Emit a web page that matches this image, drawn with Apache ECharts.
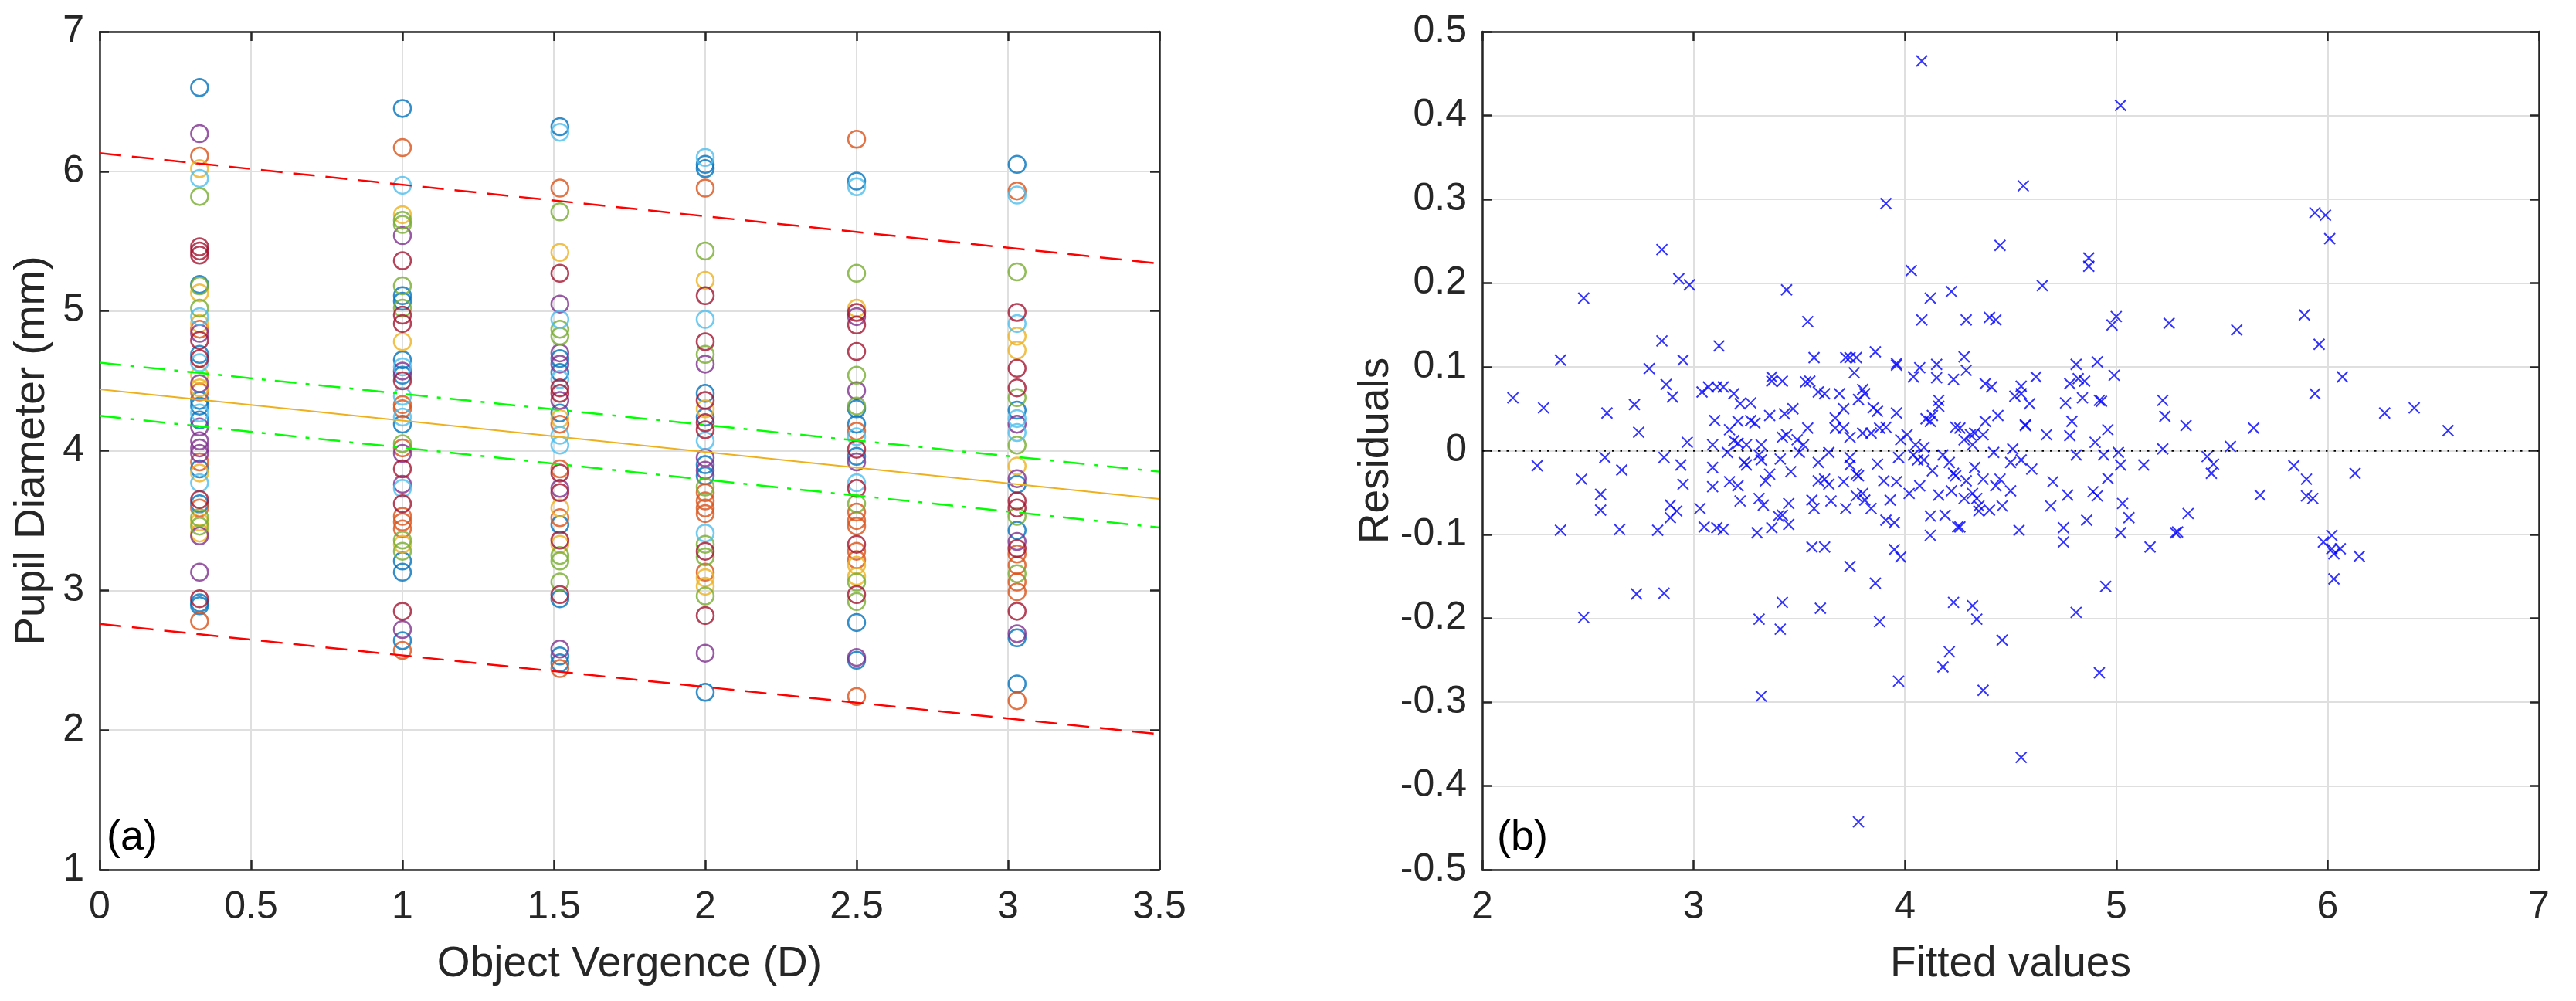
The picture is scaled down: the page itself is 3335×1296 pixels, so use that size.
<!DOCTYPE html>
<html>
<head>
<meta charset="utf-8">
<title>Pupil diameter vs object vergence</title>
<script src="https://cdn.jsdelivr.net/npm/echarts@6/dist/echarts.min.js"></script>
<style>
  html, body { margin: 0; padding: 0; background: #fff; }
  #chart { width: 3335px; height: 1296px; }
</style>
</head>
<body>
<div id="chart"></div>
<script>
// object vergence levels (D)
const vergence = [0.33, 1, 1.52, 2, 2.5, 3.03];

// pupil diameters (mm) per colour, one inner list per vergence level
const blueDiam = [
  [6.60, 5.19, 4.69, 4.36, 4.32, 4.22, 3.87, 3.62, 2.91, 2.89],
  [6.45, 5.11, 5.07, 4.65, 4.54, 4.19, 3.21, 3.13, 2.64],
  [6.32, 4.66, 4.56, 4.27, 3.47, 2.94, 2.53, 2.48],
  [6.05, 6.02, 4.41, 4.24, 3.90, 3.82, 2.27],
  [5.93, 4.30, 4.19, 3.96, 2.77, 2.50],
  [6.05, 4.29, 3.76, 3.43, 2.66, 2.33]
];
const orangeDiam = [
  [6.11, 4.87, 4.42, 3.92, 3.59, 2.78],
  [6.17, 4.33, 4.30, 4.02, 3.53, 3.49, 3.44, 2.57],
  [5.88, 4.19, 3.87, 3.52, 2.44],
  [5.88, 3.70, 3.64, 3.59, 3.55, 3.13],
  [6.23, 4.14, 3.56, 3.50, 3.46, 3.28, 3.22, 2.24],
  [5.86, 3.26, 3.18, 3.06, 2.99, 2.21]
];
const yellowDiam = [
  [6.02, 5.13, 4.91, 4.54, 4.45, 3.84, 3.49, 3.41],
  [5.69, 4.78, 3.33],
  [5.42, 4.23, 3.59, 3.33],
  [5.22, 4.30, 3.09, 3.03],
  [5.02, 3.18, 3.10],
  [4.82, 4.72, 3.89]
];
const purpleDiam = [
  [6.27, 4.84, 4.48, 4.17, 4.07, 4.02, 3.98, 3.39, 3.13],
  [5.54, 4.57, 3.98, 3.76, 2.72],
  [5.05, 4.70, 4.62, 4.36, 3.73, 2.58],
  [4.62, 3.95, 3.86, 2.55],
  [4.96, 4.43, 3.92, 2.52],
  [4.19, 3.80, 3.35, 2.69]
];
const greenDiam = [
  [5.82, 5.18, 5.02, 3.52, 3.46],
  [5.65, 5.62, 5.18, 5.02, 4.05, 3.36, 3.28],
  [5.71, 4.87, 4.82, 3.25, 3.21, 3.06],
  [5.43, 4.69, 3.74, 3.33, 3.24, 2.96],
  [5.27, 4.54, 4.32, 3.62, 3.06, 2.92],
  [5.28, 4.38, 4.04, 3.53, 3.12]
];
const cyanDiam = [
  [5.95, 4.96, 4.63, 4.27, 3.77],
  [5.90, 4.60, 4.39, 4.24, 3.73],
  [6.28, 4.94, 4.51, 4.11, 4.04],
  [6.10, 4.94, 4.07, 3.41],
  [5.89, 4.10, 3.77],
  [5.83, 4.91, 4.23, 4.13]
];
const maroonDiam = [
  [5.46, 5.43, 5.40, 4.79, 4.66, 3.65, 2.94],
  [5.36, 4.97, 4.91, 4.50, 3.87, 3.62, 2.85],
  [5.27, 4.45, 4.41, 3.84, 3.70, 3.36, 2.97],
  [5.11, 4.78, 4.36, 4.20, 4.15, 3.28, 2.82],
  [4.99, 4.90, 4.71, 4.01, 3.73, 3.33, 2.97],
  [4.99, 4.59, 4.45, 3.64, 3.59, 3.30, 2.85]
];

// regression lines, given at the ends of the x range
const lineX = [0, 3.5];
const fitY = [4.44, 3.655];
const confUpperY = [4.63, 3.85];
const confLowerY = [4.25, 3.45];
const predUpperY = [6.13, 5.34];
const predLowerY = [2.76, 1.97];

// residual plot
const fittedVals = [
  2.85, 3.12, 2.95, 3.57, 3.72, 3.74, 3.77, 3.76, 3.86, 3.96, 3.96, 4.04, 4.07, 4.15, 4.15, 4.23,
  2.87, 2.90, 3.37, 3.37, 3.42, 3.53, 3.55, 3.59, 3.62, 3.69, 3.80, 3.81, 3.78, 3.04, 3.07, 3.11,
  3.14, 3.19, 3.22, 3.27, 3.85, 3.87, 3.96, 3.71, 4.16, 4.16, 4.10, 4.12, 4.13, 3.10, 3.21, 3.27,
  3.29, 3.36, 3.43, 3.47, 3.67, 3.67, 3.71, 3.54, 3.17, 3.74, 3.80, 3.84, 3.88, 3.91, 4.24, 2.97,
  3.09, 3.19, 3.21, 3.25, 3.32, 3.42, 3.44, 3.49, 3.52, 3.98, 4.01, 4.05, 4.09, 2.86, 2.94, 3.09,
  3.16, 3.24, 3.25, 3.31, 3.32, 3.41, 3.50, 3.59, 3.64, 3.46, 3.36, 3.34, 3.74, 3.74, 3.77, 3.78,
  3.87, 3.97, 4.04, 4.06, 4.09, 4.13, 4.18, 4.21, 4.23, 2.95, 3.09, 3.17, 3.21, 3.59, 3.62, 3.64,
  3.71, 3.90, 3.96, 4.02, 4.07, 4.16, 4.22, 3.22, 3.31, 3.33, 3.45, 3.56, 3.57, 3.65, 3.72, 3.77,
  3.80, 3.81, 3.84, 3.93, 2.89, 2.92, 2.89, 3.03, 3.05, 3.11, 3.14, 2.83, 3.30, 3.37, 3.40, 3.42,
  3.45, 3.91, 3.95, 4.12, 4.19, 4.25, 4.12, 3.56, 3.62, 3.95, 3.98, 3.74, 3.86, 2.86, 3.42, 3.60,
  4.23, 3.31, 3.41, 3.88,
  4.28, 4.29, 4.38, 4.41, 4.55, 4.55, 4.52, 4.59, 4.62, 4.81, 4.82, 4.78, 4.85, 4.91, 4.99, 4.76,
  4.84, 4.92, 4.93, 4.44, 4.38, 4.57, 4.57, 4.26, 4.31, 4.33, 4.37, 4.28, 4.32, 4.79, 4.78, 4.67,
  4.96, 4.90, 4.42, 4.51, 4.81, 4.94, 5.01, 5.22, 5.54, 5.43, 5.46, 5.45, 5.02, 5.13, 4.50, 4.55,
  4.60, 4.33, 4.24, 4.29, 4.37, 4.43, 4.45, 4.50, 4.70, 4.96, 4.77, 4.89, 4.91, 4.32, 4.34, 4.28,
  4.35, 4.35, 4.40, 4.46, 4.69, 5.03, 5.06, 4.86, 5.34, 4.26, 4.54, 4.75, 4.75, 5.02, 5.16, 5.28,
  5.29, 5.68, 5.65, 5.33, 5.22, 5.23, 4.95, 4.32, 4.34, 4.81, 4.46,
  2.145, 2.29, 2.26, 2.37, 2.37, 2.48, 2.47, 2.48, 2.59, 2.58, 2.56, 2.56, 2.65, 2.66, 2.72, 2.74,
  2.73, 2.79, 2.85, 2.93, 2.98, 3.44, 3.54, 3.91, 4.03, 4.08, 4.12, 4.08, 4.22, 4.29, 4.40, 4.43,
  4.45, 4.56, 4.65, 4.87, 4.87, 4.98, 5.00, 5.02, 5.25, 5.57, 5.89, 5.94, 5.99, 6.01, 5.96, 3.32,
  3.97, 4.18, 4.21, 4.37, 4.55, 4.92, 3.78, 5.84, 5.90, 5.90, 5.93, 5.94, 5.98, 6.02, 6.02, 6.03,
  6.06, 6.03, 6.07, 6.13, 6.15, 6.27, 6.41, 6.57
];
const residualVals = [
  0.131, 0.125, 0.108, 0.111, 0.111, 0.111, 0.111, 0.093, 0.118, 0.104, 0.102, 0.088, 0.099, 0.103, 0.087, 0.085,
  0.079, 0.064, 0.088, 0.083, 0.083, 0.082, 0.083, 0.070, 0.068, 0.068, 0.073, 0.068, 0.061, 0.070, 0.076, 0.076,
  0.076, 0.068, 0.056, 0.057, 0.051, 0.047, 0.045, 0.050, 0.060, 0.053, 0.038, 0.035, 0.042, 0.036, 0.035, 0.036,
  0.033, 0.042, 0.044, 0.050, 0.039, 0.027, 0.027, 0.027, 0.025, 0.016, 0.021, 0.021, 0.027, 0.028, 0.028, 0.010,
  0.007, 0.012, 0.009, 0.007, 0.007, 0.016, 0.019, 0.013, 0.007, 0.013, 0.019, 0.007, 0.004, -0.008, -0.017, -0.020,
  -0.002, -0.014, -0.017, -0.005, -0.011, -0.010, -0.002, -0.014, -0.002, -0.025, -0.028, -0.036, -0.008, -0.017, -0.028, -0.030,
  -0.016, -0.008, -0.005, -0.011, -0.011, -0.024, -0.005, -0.014, -0.027, -0.040, -0.043, -0.037, -0.042, -0.036, -0.034, -0.040,
  -0.037, -0.036, -0.037, -0.051, -0.042, -0.053, -0.048, -0.060, -0.057, -0.065, -0.063, -0.059, -0.069, -0.060, -0.069, -0.054,
  -0.051, -0.059, -0.069, -0.059, -0.065, -0.072, -0.080, -0.069, -0.091, -0.092, -0.094, -0.095, -0.098, -0.092, -0.078, -0.077,
  -0.088, -0.083, -0.086, -0.078, -0.077, -0.091, -0.101, -0.115, -0.115, -0.118, -0.127, -0.138, -0.158, -0.170, -0.181, -0.188,
  -0.181, -0.201, -0.213, -0.204,
  0.112, 0.096, 0.080, 0.076, 0.077, 0.068, 0.065, 0.056, 0.088, 0.103, 0.086, 0.080, 0.083, 0.106, 0.090, 0.057,
  0.063, 0.060, 0.059, 0.042, 0.035, 0.031, 0.030, 0.027, 0.019, 0.021, 0.019, 0.013, 0.007, 0.035, 0.018, 0.019,
  0.025, 0.010, -0.002, 0.002, -0.005, -0.005, -0.002, 0.002, 0.005, -0.007, -0.016, -0.027, -0.017, -0.017, -0.014, -0.011,
  -0.022, -0.020, -0.030, -0.036, -0.034, -0.042, -0.034, -0.048, -0.037, -0.033, -0.053, -0.049, -0.054, -0.051, -0.057, -0.057,
  -0.066, -0.072, -0.071, -0.066, -0.066, -0.063, -0.080, -0.083, -0.075, -0.091, -0.095, -0.092, -0.109, -0.098, -0.115, -0.098,
  -0.097, -0.053, 0.027, 0.030, 0.060, 0.041, -0.162, -0.185, -0.201, -0.193, -0.226,
  0.063, 0.051, -0.018, 0.108, -0.095, 0.182, -0.034, -0.199, 0.045, -0.008, -0.052, -0.071, -0.094, -0.023, 0.055, 0.022,
  -0.171, 0.098, 0.240, 0.205, 0.198, 0.192, 0.154, 0.295, 0.215, 0.465, 0.182, 0.156, 0.190, 0.156, 0.159, 0.156,
  0.245, 0.316, 0.197, 0.230, 0.220, 0.150, 0.160, 0.412, 0.152, 0.144, 0.162, 0.284, 0.281, 0.253, 0.127, -0.293,
  -0.275, -0.258, -0.240, -0.286, -0.366, -0.265, -0.443, -0.018, -0.034, -0.054, -0.057, 0.068, -0.109, -0.101, -0.117, -0.123,
  -0.117, -0.153, 0.088, -0.027, -0.126, 0.045, 0.051, 0.024
];
const zeroX = [2, 7];

const FONT = 'Liberation Sans, Arial, sans-serif';
const INK = '#262626';

const colourSets = [
  { c: '#0072BD', d: blueDiam },
  { c: '#D95319', d: orangeDiam },
  { c: '#EDB120', d: yellowDiam },
  { c: '#7E2F8E', d: purpleDiam },
  { c: '#77AC30', d: greenDiam },
  { c: '#4DBEEE', d: cyanDiam },
  { c: '#A2142F', d: maroonDiam }
];

function pairs(xs, ys) {
  return xs.map((x, i) => [x, ys[i]]);
}

function boxAxis(gridIndex, pos, min, max, interval, isMain, name, nameGap) {
  const ax = {
    gridIndex: gridIndex,
    type: 'value',
    position: pos,
    min: min,
    max: max,
    interval: interval,
    axisLine: { show: true, onZero: false, lineStyle: { color: INK, width: 2.5 } },
    axisTick: { show: true, inside: true, length: 12, lineStyle: { color: INK, width: 2.5 } },
    axisLabel: { show: false },
    splitLine: { show: false }
  };
  if (isMain) {
    ax.axisLabel = {
      show: true, color: INK, fontSize: 50, fontFamily: FONT,
      margin: (pos === 'left') ? 20 : 24,
      showMinLabel: true, showMaxLabel: true,
      formatter: v => String(Math.round(v * 10) / 10)
    };
    ax.splitLine = { show: true, lineStyle: { color: '#dfdfdf', width: 2 } };
    ax.name = name;
    ax.nameLocation = 'middle';
    ax.nameGap = nameGap;
    ax.nameTextStyle = { color: INK, fontSize: 55, fontFamily: FONT };
    if (pos === 'left') ax.nameRotate = 90;
  }
  return ax;
}

const chart = echarts.init(document.getElementById('chart'), null, { renderer: 'canvas' });

const series = [];
colourSets.forEach(set => {
  const data = [];
  set.d.forEach((col, i) => col.forEach(v => data.push([vergence[i], v])));
  series.push({
    type: 'scatter', xAxisIndex: 0, yAxisIndex: 0, data: data,
    symbol: 'circle', symbolSize: 22,
    itemStyle: { color: 'rgba(0,0,0,0)', borderColor: set.c, borderWidth: 2.5 },
    silent: true, z: 2
  });
});

function fitLine(ys, color, type, width) {
  return {
    type: 'line', xAxisIndex: 0, yAxisIndex: 0, data: pairs(lineX, ys),
    showSymbol: false, symbol: 'none',
    lineStyle: { color: color, type: type, width: width },
    silent: true, z: 3
  };
}
series.push(fitLine(predUpperY, '#FF0000', [28, 14], 2.5));
series.push(fitLine(predLowerY, '#FF0000', [28, 14], 2.5));
series.push(fitLine(confUpperY, '#00FF00', [28, 12, 5, 12], 2.5));
series.push(fitLine(confLowerY, '#00FF00', [28, 12, 5, 12], 2.5));
series.push(fitLine(fitY, '#EDB120', 'solid', 2));

series.push({
  type: 'line', xAxisIndex: 2, yAxisIndex: 2, data: pairs(zeroX, [0, 0]),
  showSymbol: false, symbol: 'none',
  lineStyle: { color: '#000', type: [2.5, 8], width: 2.5 },
  silent: true, z: 2
});
series.push({
  type: 'scatter', xAxisIndex: 2, yAxisIndex: 2, data: pairs(fittedVals, residualVals),
  symbol: 'path://M0,0L10,10M10,0L0,10', symbolSize: 14,
  itemStyle: { color: 'rgba(0,0,0,0)', borderColor: '#0000FF', borderWidth: 2 },
  silent: true, z: 3
});

const option = {
  backgroundColor: '#fff',
  animation: false,
  grid: [
    { left: 129, top: 41, width: 1372, height: 1085, outerBoundsMode: 'none' },
    { left: 1919, top: 41, width: 1368, height: 1085, outerBoundsMode: 'none' }
  ],
  xAxis: [
    boxAxis(0, 'bottom', 0, 3.5, 0.5, true, 'Object Vergence (D)', 95),
    boxAxis(0, 'top', 0, 3.5, 0.5, false),
    boxAxis(1, 'bottom', 2, 7, 1, true, 'Fitted values', 95),
    boxAxis(1, 'top', 2, 7, 1, false)
  ],
  yAxis: [
    boxAxis(0, 'left', 1, 7, 1, true, 'Pupil Diameter (mm)', 60),
    boxAxis(0, 'right', 1, 7, 1, false),
    boxAxis(1, 'left', -0.5, 0.5, 0.1, true, 'Residuals', 100),
    boxAxis(1, 'right', -0.5, 0.5, 0.1, false)
  ],
  graphic: [
    { type: 'text', left: 138, top: 1058, z: 10,
      style: { text: '(a)', font: '54px ' + FONT, fill: '#000' } },
    { type: 'text', left: 1938, top: 1058, z: 10,
      style: { text: '(b)', font: '54px ' + FONT, fill: '#000' } }
  ],
  series: series
};

chart.setOption(option);
</script>
</body>
</html>
